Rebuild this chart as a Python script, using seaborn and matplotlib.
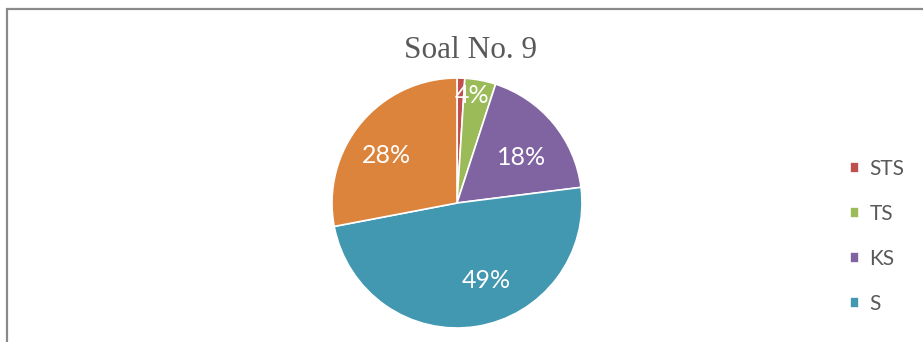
import numpy as np
import matplotlib
matplotlib.use('Agg')
import matplotlib.pyplot as plt
from matplotlib.patches import Rectangle
import seaborn as sns

# data
categories = ['STS', 'TS', 'KS', 'S', 'SS']
values = [1, 4, 18, 49, 28]
colors = ['#C0504D', '#9BBB59', '#8064A2', '#4198B0', '#DC833C']
label_dist = [0.0, 0.87, 0.63, 0.66, 0.68]
label_turn = [0, 3, -4, 12, 6]   # degrees, Excel's "best fit" nudges

sns.set_theme(style='white')
plt.rcParams['font.family'] = ['Lato', 'DejaVu Sans']

W, H = 923, 342
fig = plt.figure(figsize=(W / 100, H / 100), dpi=100)
fig.patch.set_facecolor('white')

# outer frame of the chart area (cropped on the right/bottom)
fig.patches.append(Rectangle((7.0 / W, -0.2), 1.2, 1.2 - 8.5 / H,
                             transform=fig.transFigure, fill=False,
                             ec='#8a8a8a', lw=1.6))

cx, cy, r = 457, 203, 125
ax = fig.add_axes([(cx - r) / W, (H - cy - r) / H, 2 * r / W, 2 * r / H])

wedges, texts, autotexts = ax.pie(
    values, colors=colors, startangle=90, counterclock=False,
    autopct='%1.0f%%', pctdistance=0.66,
    wedgeprops=dict(edgecolor='white', linewidth=1.2),
    textprops=dict(color='white', fontsize=18))

for w, t, d, da in zip(wedges, autotexts, label_dist, label_turn):
    ang = np.deg2rad((w.theta1 + w.theta2) / 2 + da)
    if d == 0:
        t.set_visible(False)
    else:
        t.set_position((d * np.cos(ang), d * np.sin(ang)))

ax.set_xlim(-1, 1)
ax.set_ylim(-1, 1)
ax.set_aspect('equal')
ax.axis('off')

fig.text(470 / W, 1 - 51 / H, 'Soal No. 9', ha='center', va='center',
         fontsize=22.5, color='#595959', family='Liberation Serif')

# only the first four entries fit inside the visible chart area
leg = fig.legend(wedges[:4], categories[:4], loc='upper left',
                 bbox_to_anchor=(831 / W, 1 - 140 / H),
                 frameon=False, fontsize=15, handlelength=0.45,
                 handleheight=0.45, handletextpad=0.5, labelspacing=1.2)
for txt in leg.get_texts():
    txt.set_color('#595959')

fig.savefig('out.png', dpi=100, facecolor='white')
